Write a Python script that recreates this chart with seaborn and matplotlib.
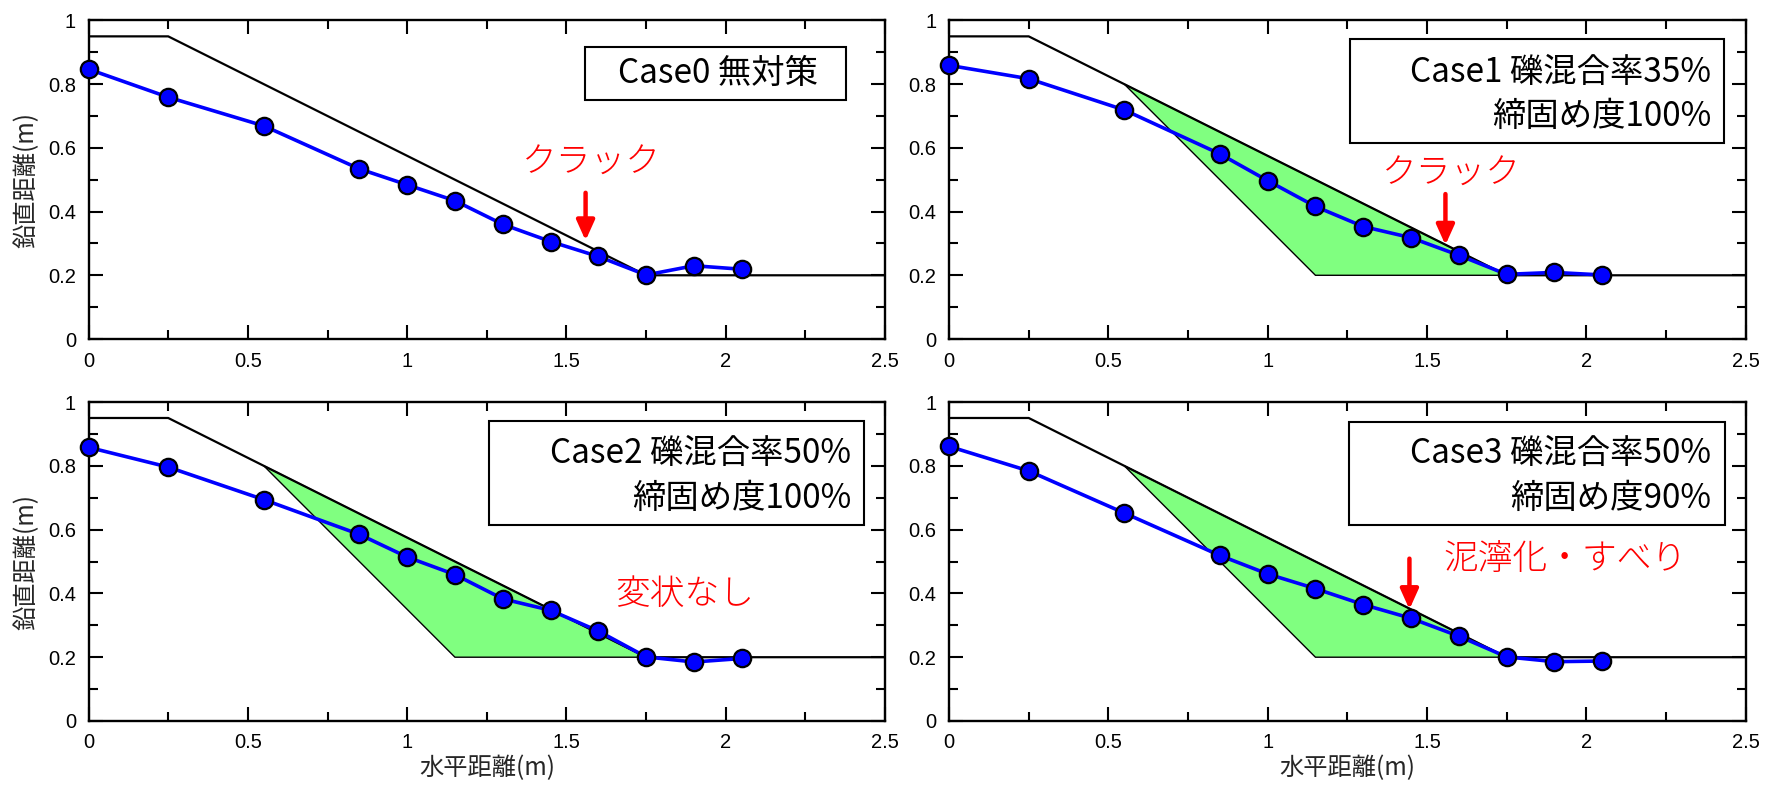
import matplotlib
matplotlib.use("Agg")
import matplotlib.pyplot as plt
from matplotlib.patches import Rectangle
from matplotlib.ticker import MultipleLocator, FuncFormatter
import seaborn as sns

# Measurement stations along the slope (m)
x_pos = [0, 0.25, 0.55, 0.85, 1.0, 1.15, 1.3, 1.45, 1.6, 1.75, 1.9, 2.05]

# Surface elevation after testing for each case (m)
case0_z = [0.847, 0.759, 0.669, 0.534, 0.484, 0.434, 0.360, 0.306, 0.259, 0.201, 0.230, 0.219]
case1_z = [0.859, 0.817, 0.719, 0.581, 0.497, 0.416, 0.353, 0.318, 0.263, 0.203, 0.209, 0.201]
case2_z = [0.858, 0.796, 0.694, 0.585, 0.514, 0.459, 0.383, 0.347, 0.282, 0.201, 0.185, 0.196]
case3_z = [0.861, 0.784, 0.652, 0.519, 0.461, 0.415, 0.365, 0.322, 0.266, 0.201, 0.186, 0.188]

# Initial slope profile
profile_x = [0, 0.25, 1.75, 2.5]
profile_z = [0.95, 0.95, 0.2, 0.2]

# Improved (gravel-mixed) soil zone
improved_x = [0.55, 1.75, 1.15]
improved_z = [0.8, 0.2, 0.2]

case_lines = [
    ["Case0 無対策"],
    ["Case1 礫混合率35%", "締固め度100%"],
    ["Case2 礫混合率50%", "締固め度100%"],
    ["Case3 礫混合率50%", "締固め度90%"],
]
notes = ["クラック", "クラック", "変状なし", "泥濘化・すべり"]
has_zone = [False, True, True, True]

sns.set_theme(style="ticks")
plt.rcParams["font.family"] = ["Noto Sans CJK JP", "DejaVu Sans"]

fig = plt.figure(figsize=(17.68, 7.86), dpi=100)
rects = [
    [0.0501, 0.5687, 0.4505, 0.4053],
    [0.5368, 0.5687, 0.4505, 0.4053],
    [0.0501, 0.0827, 0.4505, 0.4058],
    [0.5368, 0.0827, 0.4505, 0.4058],
]
series = [case0_z, case1_z, case2_z, case3_z]

# legend box extents (x0, x1, y0, y1) in data units
boxes = [
    (1.558, 2.378, 0.749, 0.918),
    (1.258, 2.433, 0.615, 0.941),
    (1.256, 2.435, 0.616, 0.939),
    (1.256, 2.435, 0.616, 0.937),
]
note_pos = [(1.578, 0.552), (1.576, 0.520), (1.871, 0.397), (1.933, 0.509)]
arrows = [(1.56, 0.459, 0.309), (1.558, 0.455, 0.295), None, (1.445, 0.509, 0.350)]

fmt = FuncFormatter(lambda v, p: f"{v:g}")

for i, ax_rect in enumerate(rects):
    ax = fig.add_axes(ax_rect)
    ax.set_facecolor("white")

    if has_zone[i]:
        ax.fill(improved_x, improved_z, facecolor="#80ff80", edgecolor="black",
                linewidth=1.0, zorder=2)

    sns.lineplot(x=profile_x, y=profile_z, ax=ax, color="black", linewidth=1.6,
                 sort=False, zorder=3)
    sns.lineplot(x=x_pos, y=series[i], ax=ax, color="#0000ff", linewidth=2.6,
                 marker="o", markersize=12.5, markerfacecolor="#0000ff",
                 markeredgecolor="black", markeredgewidth=1.6, sort=False,
                 clip_on=False, zorder=5)

    ax.set_xlim(0, 2.5)
    ax.set_ylim(0, 1)
    ax.xaxis.set_major_locator(MultipleLocator(0.5))
    ax.xaxis.set_minor_locator(MultipleLocator(0.25))
    ax.yaxis.set_major_locator(MultipleLocator(0.2))
    ax.yaxis.set_minor_locator(MultipleLocator(0.1))
    ax.xaxis.set_major_formatter(fmt)
    ax.yaxis.set_major_formatter(fmt)
    ax.tick_params(which="both", direction="in", top=True, right=True,
                   colors="black", labelsize=14.5, labelfontfamily="Liberation Sans")
    ax.tick_params(which="major", length=10, width=1.5, pad=9)
    ax.tick_params(which="minor", length=6.5, width=1.5)
    for sp in ax.spines.values():
        sp.set_linewidth(1.7)
        sp.set_color("black")
        sp.set_visible(True)

    if i % 2 == 0:
        ax.set_ylabel("鉛直距離(m)", fontsize=17.5, labelpad=6)
    else:
        ax.set_ylabel("")
    if i >= 2:
        ax.set_xlabel("水平距離(m)", fontsize=17.5, labelpad=2)
    else:
        ax.set_xlabel("")

    # case legend box
    x0, x1, y0, y1 = boxes[i]
    ax.add_patch(Rectangle((x0, y0), x1 - x0, y1 - y0, facecolor="white",
                           edgecolor="black", linewidth=1.5, zorder=6))
    lines = case_lines[i]
    if len(lines) == 1:
        ax.text((x0 + x1) / 2 + 0.007, (y0 + y1) / 2, lines[0], fontsize=24,
                ha="center", va="center", color="black", zorder=7)
    else:
        for k, (txt, yy) in enumerate(zip(lines, [0.838, 0.699])):
            ax.text(2.393, yy, txt, fontsize=24, ha="right", va="center",
                    color="black", zorder=7)

    # observation note
    nx, ny = note_pos[i]
    ax.text(nx, ny, notes[i], fontsize=25, color="#ff0000", ha="center",
            va="center", fontweight="light", zorder=7)
    if arrows[i] is not None:
        ax_x, top, tip = arrows[i]
        ax.annotate("", xy=(ax_x, tip), xytext=(ax_x, top),
                    arrowprops=dict(arrowstyle="-|>,head_length=1.0,head_width=0.45",
                                    color="#ff0000", lw=3.2, mutation_scale=12,
                                    shrinkA=0, shrinkB=0),
                    zorder=7)

fig.savefig("out.png", dpi=100, facecolor="white")
